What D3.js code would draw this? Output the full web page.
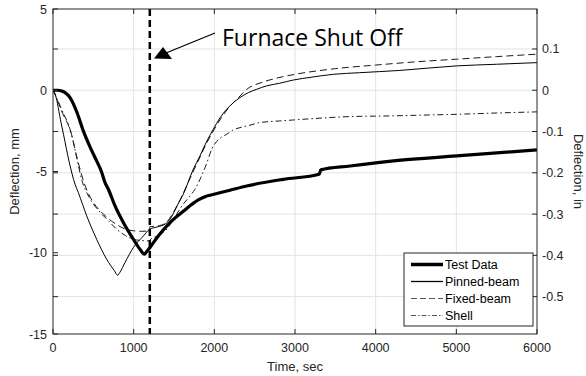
<!DOCTYPE html>
<html><head><meta charset="utf-8">
<script src="https://cdn.jsdelivr.net/npm/d3@7/dist/d3.min.js"></script>
<style>body{margin:0;background:#fff}svg{display:block}text{font-family:"Liberation Sans",Arial,sans-serif;fill:#262626}</style>
</head><body><svg id="c" width="586" height="376"></svg>
<script>
// ---- data (time in s, deflection in mm) ----
const testTime = [0,60,107,150,211,300,376,460,541,600,645,686,769,872,996,1080,1132,1150,1202,1300,1450,1615,1801,1900,1946,2194,2401,2855,3300,3320,3682,4250,5004,6000];
const testDefl = [0,0,-0.05,-0.15,-0.45,-1.4,-2.5,-3.5,-4.35,-5.0,-5.68,-6.09,-7.12,-8.14,-9.17,-9.8,-10.09,-10.0,-9.68,-9.0,-8.14,-7.45,-6.75,-6.52,-6.46,-6.15,-5.89,-5.48,-5.17,-4.9,-4.66,-4.33,-4.04,-3.67];
const pinnedTime = [0,30,100,130,200,273,314,418,541,665,760,802,830,893,996,1120,1200,1300,1400,1450,1550,1615,1739,1822,1900,1987,2070,2153,2240,2318,2420,2525,2650,2810,2979,3200,3475,3800,4300,5004,5500,6000];
const pinnedDefl = [0,-0.3,-2.0,-2.71,-4.4,-5.78,-6.3,-7.73,-9.17,-10.4,-11.1,-11.38,-11.2,-10.6,-9.68,-8.97,-8.55,-8.4,-8.2,-7.94,-7.0,-6.4,-4.86,-4.04,-3.2,-2.4,-1.7,-1.17,-0.75,-0.45,-0.15,0.06,0.27,0.43,0.63,0.8,0.98,1.08,1.22,1.5,1.6,1.7];
const fixedTime = [0,30,100,229,300,400,500,600,700,800,900,1000,1100,1190,1200,1300,1400,1500,1600,1700,1800,1900,2000,2100,2200,2300,2400,2600,2800,3000,3500,4000,4500,5000,5500,6000];
const fixedDefl = [0,-0.3,-1.2,-2.71,-4.2,-5.9,-6.9,-7.5,-7.95,-8.3,-8.55,-8.65,-8.68,-8.65,-8.4,-8.35,-8.15,-7.45,-6.5,-5.4,-4.35,-3.3,-2.4,-1.6,-0.95,-0.45,0.05,0.5,0.78,0.98,1.33,1.55,1.75,1.91,2.07,2.22];
const shellTime = [0,30,100,229,300,356,450,583,700,789,900,996,1100,1195,1205,1300,1400,1500,1600,1700,1760,1830,1905,1970,2029,2100,2153,2230,2318,2442,2566,2810,2979,3300,3682,4177,4500,5004,5500,6000];
const shellDefl = [0,-0.3,-1.1,-2.71,-4.3,-5.5,-6.6,-7.5,-8.1,-8.55,-8.95,-9.17,-9.25,-9.27,-9.2,-8.95,-8.6,-7.9,-7.1,-6.5,-6.09,-5.4,-4.5,-3.6,-3.15,-2.85,-2.71,-2.45,-2.3,-2.15,-1.99,-1.89,-1.83,-1.72,-1.62,-1.58,-1.54,-1.48,-1.4,-1.33];
const xTicks = [0,1000,2000,3000,4000,5000,6000];
const yTicksMm = [5,0,-5,-10,-15];
const yTicksIn = [0.1,0,-0.1,-0.2,-0.3,-0.4,-0.5];
const shutOffTime = 1200;
const seriesNames = ["Test Data","Pinned-beam","Fixed-beam","Shell"];

// ---- layout ----
const svg = d3.select("#c");
const L=53, R=537, T=9, B=334;
const x = d3.scaleLinear().domain([0,6000]).range([L,R]);
const y = d3.scaleLinear().domain([-15,5]).range([B,T]);
const yIn = d3.scaleLinear().domain([-15/25.4,5/25.4]).range([B,T]);
const axisCol = "#262626";

// grid
const g = svg.append("g");
g.selectAll(".vg").data(xTicks.slice(1,-1)).join("line")
  .attr("x1",d=>x(d)).attr("x2",d=>x(d)).attr("y1",T).attr("y2",B)
  .attr("stroke","#e3e3e3").attr("stroke-width",1);
g.selectAll(".hg").data(yTicksIn).join("line")
  .attr("x1",L).attr("x2",R).attr("y1",d=>yIn(d)).attr("y2",d=>yIn(d))
  .attr("stroke","#e3e3e3").attr("stroke-width",1);

// lines
const mk = (t,v)=>t.map((d,i)=>[d,v[i]]);
const line = d3.line().x(d=>x(d[0])).y(d=>y(d[1])).curve(d3.curveMonotoneX);
svg.append("defs").append("clipPath").attr("id","clp").append("rect").attr("x",L).attr("y",T).attr("width",R-L).attr("height",B-T);
const pg = svg.append("g").attr("clip-path","url(#clp)");
pg.append("path").datum(mk(shellTime,shellDefl)).attr("d",line).attr("fill","none").attr("stroke","#1a1a1a").attr("stroke-width",1).attr("stroke-dasharray","6,3,1.5,3");
pg.append("path").datum(mk(fixedTime,fixedDefl)).attr("d",line).attr("fill","none").attr("stroke","#1a1a1a").attr("stroke-width",1).attr("stroke-dasharray","7,4");
pg.append("path").datum(mk(pinnedTime,pinnedDefl)).attr("d",line).attr("fill","none").attr("stroke","#000").attr("stroke-width",1);
pg.append("path").datum(mk(testTime,testDefl)).attr("d",line).attr("fill","none").attr("stroke","#000").attr("stroke-width",3.2).attr("stroke-linejoin","round");

// furnace shut off line
svg.append("line").attr("x1",x(shutOffTime)).attr("x2",x(shutOffTime)).attr("y1",T).attr("y2",B)
  .attr("stroke","#000").attr("stroke-width",2.5).attr("stroke-dasharray","7,4");

// axes box
svg.append("rect").attr("x",L).attr("y",T).attr("width",R-L).attr("height",B-T).attr("fill","none").attr("stroke",axisCol).attr("stroke-width",1);

// ticks
const tk = svg.append("g").attr("stroke",axisCol).attr("stroke-width",1);
xTicks.forEach(d=>{
  tk.append("line").attr("x1",x(d)).attr("x2",x(d)).attr("y1",B).attr("y2",B-5);
  tk.append("line").attr("x1",x(d)).attr("x2",x(d)).attr("y1",T).attr("y2",T+5);
});
yTicksIn.forEach(d=>{
  tk.append("line").attr("x1",R).attr("x2",R-5).attr("y1",yIn(d)).attr("y2",yIn(d));
  tk.append("line").attr("x1",L).attr("x2",L+5).attr("y1",yIn(d)).attr("y2",yIn(d));
});
yTicksMm.forEach(d=>{
  tk.append("line").attr("x1",L).attr("x2",L+5).attr("y1",y(d)).attr("y2",y(d));
});

// tick labels
const fs = 12.5;
svg.selectAll(".xl").data(xTicks).join("text").attr("x",d=>x(d)).attr("y",B+18).attr("text-anchor","middle").attr("font-size",fs).text(d=>d);
svg.selectAll(".yl").data(yTicksMm).join("text").attr("x",L-6).attr("y",d=>y(d)+4.5).attr("text-anchor","end").attr("font-size",fs).text(d=>d);
svg.selectAll(".yr").data(yTicksIn).join("text").attr("x",R+5).attr("y",d=>yIn(d)+4.5).attr("text-anchor","start").attr("font-size",fs).text(d=>d);

// axis titles
svg.append("text").attr("x",295).attr("y",371).attr("text-anchor","middle").attr("font-size",13).text("Time, sec");
svg.append("text").attr("transform",`translate(19,${(T+B)/2}) rotate(-90)`).attr("text-anchor","middle").attr("font-size",13).text("Deflection, mm");
svg.append("text").attr("transform",`translate(574,${(T+B)/2}) rotate(90)`).attr("text-anchor","middle").attr("font-size",13).text("Deflection, in");

// annotation
svg.append("text").attr("x",222).attr("y",46).attr("font-size",23).style("font-family","'Open Sans',sans-serif").style("fill","#000").text("Furnace Shut Off");
svg.append("line").attr("x1",215).attr("y1",33).attr("x2",166).attr("y2",53).attr("stroke","#000").attr("stroke-width",1.3);
svg.append("path").attr("d","M154,58.5 L163,47 L172,59 Z").attr("fill","#000");

// legend
const lg = svg.append("g");
lg.append("rect").attr("x",404).attr("y",253).attr("width",129).attr("height",73).attr("fill","#fff").attr("stroke",axisCol).attr("stroke-width",1);
const lgStyles = [{w:3.5,c:"#000",da:null},{w:1.3,c:"#000",da:null},{w:1,c:"#555",da:"6,3"},{w:1,c:"#555",da:"5,2,1.5,2"}];
seriesNames.forEach((n,i)=>{
  const yy = 264.5 + i*17;
  const l = lg.append("line").attr("x1",411).attr("x2",443).attr("y1",yy).attr("y2",yy).attr("stroke",lgStyles[i].c).attr("stroke-width",lgStyles[i].w);
  if(lgStyles[i].da) l.attr("stroke-dasharray",lgStyles[i].da);
  lg.append("text").attr("x",445).attr("y",yy+4.5).attr("font-size",12.5).style("fill","#000").text(n);
});
</script></body></html>
